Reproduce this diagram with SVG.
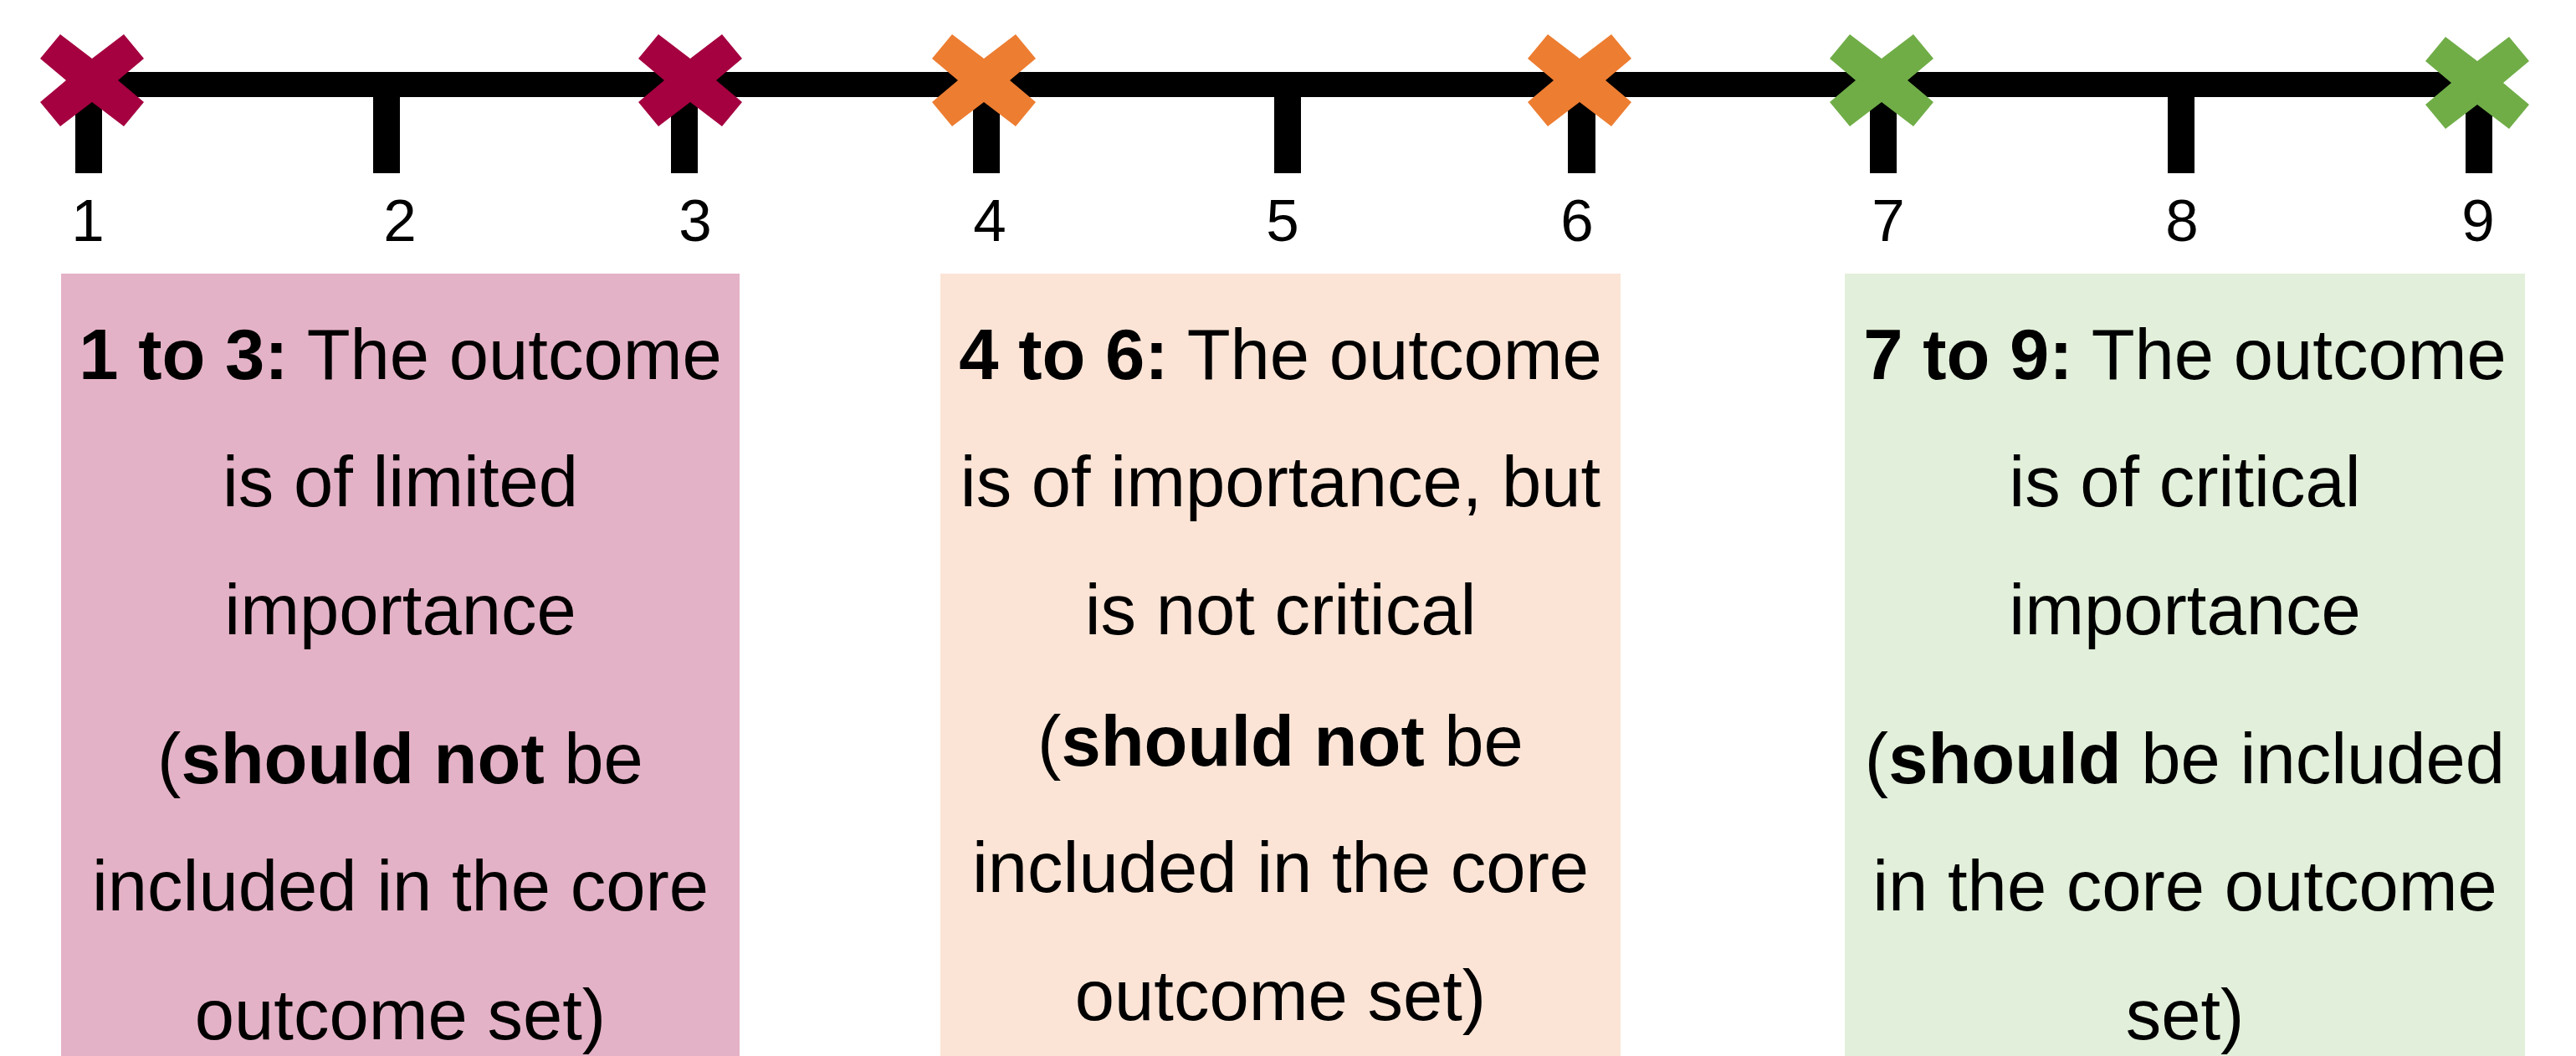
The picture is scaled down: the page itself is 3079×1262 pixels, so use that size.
<svg xmlns="http://www.w3.org/2000/svg" xmlns:xlink="http://www.w3.org/1999/xlink" width="3079" height="1262" viewBox="0 0 3079 1262">
<style>
.axis{fill:#000}
.num{font-family:"Liberation Sans",Arial,sans-serif;font-size:71px;fill:#000;text-anchor:middle}
.txt{font-family:"Liberation Sans",Arial,sans-serif;font-size:85px;fill:#000;text-anchor:middle}
.b{font-weight:bold}
.red{fill:#A50040}
.orange{fill:#ED7D31}
.green{fill:#70AD47}
</style>
<defs>
<polygon id="xmark" points="-62,-26 -38,-55 0,-26 38,-55 62,-26 31,0 62,26 38,55 0,26 -38,55 -62,26 -31,0"/>
</defs>
<rect width="3079" height="1262" fill="#fff"/>
<g id="connectors">
<rect class="axis" x="90" y="86" width="2889" height="30"/>
<rect class="axis" x="90" y="100" width="32" height="107"/>
<rect class="axis" x="446" y="100" width="32" height="107"/>
<rect class="axis" x="802" y="100" width="32" height="107"/>
<rect class="axis" x="1163" y="100" width="32" height="107"/>
<rect class="axis" x="1523" y="100" width="32" height="107"/>
<rect class="axis" x="1874" y="100" width="33" height="107"/>
<rect class="axis" x="2235" y="100" width="32" height="107"/>
<rect class="axis" x="2591" y="100" width="32" height="107"/>
<rect class="axis" x="2947" y="100" width="32" height="107"/>
</g>
<g id="markers">
<use xlink:href="#xmark" class="red" x="110" y="96"/>
<use xlink:href="#xmark" class="red" x="825" y="96"/>
<use xlink:href="#xmark" class="orange" x="1176" y="96"/>
<use xlink:href="#xmark" class="orange" x="1888" y="96"/>
<use xlink:href="#xmark" class="green" x="2249" y="96"/>
<use xlink:href="#xmark" class="green" x="2961" y="99"/>
</g>
<g id="labels">
<text class="num" x="105" y="288">1</text>
<text class="num" x="478" y="288">2</text>
<text class="num" x="831" y="288">3</text>
<text class="num" x="1183" y="288">4</text>
<text class="num" x="1533" y="288">5</text>
<text class="num" x="1885" y="288">6</text>
<text class="num" x="2257" y="288">7</text>
<text class="num" x="2608" y="288">8</text>
<text class="num" x="2962" y="288">9</text>
</g>
<g id="box-1-3">
<rect x="73" y="327" width="811" height="935" fill="#E4B2C6"/>
<text class="txt" x="478.5" y="453"><tspan class="b">1 to 3:</tspan> The outcome</text>
<text class="txt" x="478.5" y="605">is of limited</text>
<text class="txt" x="478.5" y="758">importance</text>
<text class="txt" x="478.5" y="936">(<tspan class="b">should not</tspan> be</text>
<text class="txt" x="478.5" y="1088">included in the core</text>
<text class="txt" x="478.5" y="1242">outcome set)</text>
</g>
<g id="box-4-6">
<rect x="1124" y="327" width="813" height="935" fill="#FBE4D6"/>
<text class="txt" x="1530.5" y="453"><tspan class="b">4 to 6:</tspan> The outcome</text>
<text class="txt" x="1530.5" y="605">is of importance, but</text>
<text class="txt" x="1530.5" y="758">is not critical</text>
<text class="txt" x="1530.5" y="915">(<tspan class="b">should not</tspan> be</text>
<text class="txt" x="1530.5" y="1066">included in the core</text>
<text class="txt" x="1530.5" y="1219">outcome set)</text>
</g>
<g id="box-7-9">
<rect x="2205" y="327" width="813" height="935" fill="#E2EFDA"/>
<text class="txt" x="2611.5" y="453"><tspan class="b">7 to 9:</tspan> The outcome</text>
<text class="txt" x="2611.5" y="605">is of critical</text>
<text class="txt" x="2611.5" y="758">importance</text>
<text class="txt" x="2611.5" y="936">(<tspan class="b">should</tspan> be included</text>
<text class="txt" x="2611.5" y="1088">in the core outcome</text>
<text class="txt" x="2611.5" y="1242">set)</text>
</g>
</svg>
